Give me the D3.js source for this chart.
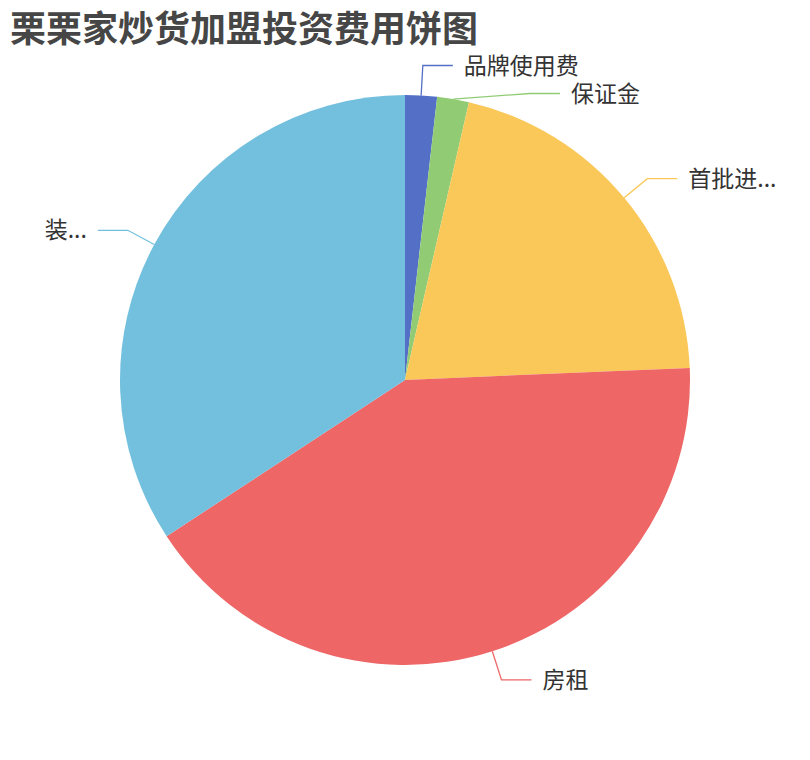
<!DOCTYPE html>
<html>
<head>
<meta charset="utf-8">
<script src="https://cdn.jsdelivr.net/npm/d3@7"></script>
<style>
  body { margin: 0; background: #fff; }
  svg { display: block; font-family: "Noto Sans CJK SC", "Noto Sans", sans-serif; }
</style>
</head>
<body>
<div id="chart"></div>
<script>
// data (万元)
var categories = ["品牌使用费", "保证金", "首批进...", "房租", "装..."];
var values = [2, 2, 23, 46, 38];
var colors = ["#5470c6", "#91cc75", "#fac858", "#ee6666", "#73c0de"];
var title = "栗栗家炒货加盟投资费用饼图";

var width = 810, height = 760;
var cx = width / 2, cy = height / 2;
var radius = Math.min(width, height) / 2 * 0.75;
var len1 = 30, len2 = 30, gap = 11, lineGap = 28;

var svg = d3.select("#chart").append("svg")
  .attr("width", width)
  .attr("height", height);

svg.append("text")
  .attr("x", 10)
  .attr("y", 42)
  .attr("font-size", 36)
  .attr("font-weight", "bold")
  .attr("fill", "#464646")
  .text(title);

var data = categories.map(function(c, i) { return { name: c, value: values[i], color: colors[i] }; });

var pie = d3.pie().sort(null).value(function(d) { return d.value; });
var arcs = pie(data);

var arc = d3.arc().innerRadius(0).outerRadius(radius);
var edgeArc = d3.arc().innerRadius(radius).outerRadius(radius);
var outerArc = d3.arc().innerRadius(radius + len1).outerRadius(radius + len1);

var g = svg.append("g").attr("transform", "translate(" + cx + "," + cy + ")");

g.selectAll("path.slice")
  .data(arcs)
  .enter().append("path")
    .attr("class", "slice")
    .attr("d", arc)
    .attr("fill", function(d) { return d.data.color; });

// label layout, with a simple push-apart on each side
var labels = arcs.map(function(d) {
  var mid = (d.startAngle + d.endAngle) / 2;
  var e = edgeArc.centroid(d), o = outerArc.centroid(d);
  return { d: d, mid: mid, right: mid < Math.PI, edge: e, x: o[0], y: o[1] };
});

[true, false].forEach(function(side) {
  var list = labels.filter(function(l) { return l.right === side; })
    .sort(function(a, b) { return a.y - b.y; });
  for (var i = 1; i < list.length; i++) {
    if (list[i].y - list[i - 1].y < lineGap) {
      list[i].y = list[i - 1].y + lineGap;
      var R = radius + len1;
      if (Math.abs(list[i].y) < R) {
        var dx = Math.sqrt(R * R - list[i].y * list[i].y);
        list[i].x = side ? dx - 6 : -dx;
      }
    }
  }
});

var lab = g.selectAll("g.label")
  .data(labels)
  .enter().append("g")
    .attr("class", "label");

lab.append("polyline")
  .attr("points", function(l) {
    var x2 = l.x + (l.right ? len2 : -len2);
    return [l.edge, [l.x, l.y], [x2, l.y]].map(function(p) { return p.join(","); }).join(" ");
  })
  .attr("fill", "none")
  .attr("stroke", function(l) { return l.d.data.color; })
  .attr("stroke-width", 1.3);

lab.append("text")
  .attr("x", function(l) { return l.x + (l.right ? len2 + gap : -len2 - gap); })
  .attr("y", function(l) { return l.y; })
  .attr("dy", "0.35em")
  .attr("text-anchor", function(l) { return l.right ? "start" : "end"; })
  .attr("font-size", 23)
  .attr("fill", "#333")
  .text(function(l) { return l.d.data.name; });
</script>
</body>
</html>
